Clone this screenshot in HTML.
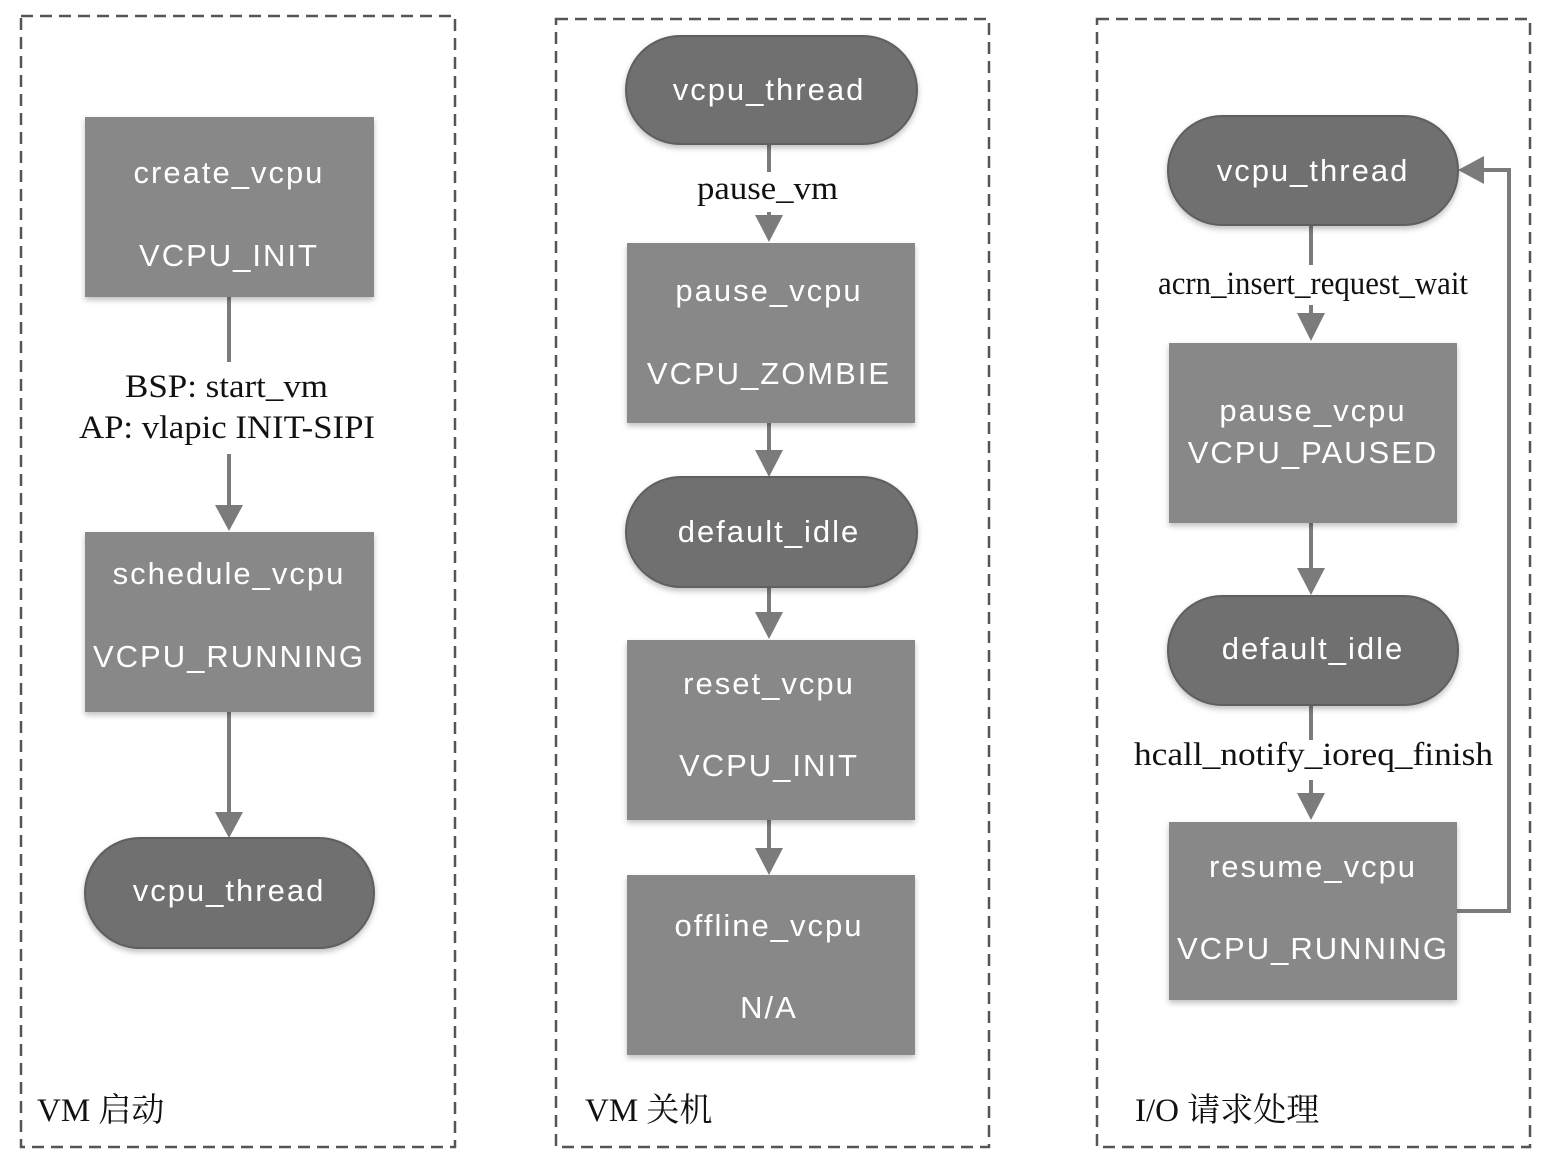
<!DOCTYPE html>
<html><head><style>body{margin:0;background:#fff}</style></head><body>
<svg width="1552" height="1170" xmlns="http://www.w3.org/2000/svg">
<defs>
<filter id="s" x="-10%" y="-10%" width="120%" height="130%"><feDropShadow dx="0" dy="3" stdDeviation="3" flood-color="#000" flood-opacity="0.25"/></filter>
</defs>
<g fill="none" stroke="#555" stroke-width="2.5" stroke-dasharray="12,7">
<rect x="21" y="16" width="434" height="1131"/>
<rect x="556" y="19" width="433" height="1128"/>
<rect x="1097" y="19" width="433" height="1128"/>
</g>
<g stroke="#7b7b7b" stroke-width="4" fill="none">
<line x1="229" y1="297" x2="229" y2="362"/><line x1="229" y1="454" x2="229" y2="508"/>
<line x1="229" y1="712" x2="229" y2="815"/>
<line x1="769" y1="144" x2="769" y2="172"/><line x1="769" y1="212" x2="769" y2="220"/>
<line x1="769" y1="423" x2="769" y2="455"/><line x1="769" y1="587" x2="769" y2="617"/><line x1="769" y1="820" x2="769" y2="853"/>
<line x1="1311" y1="225" x2="1311" y2="265"/><line x1="1311" y1="305" x2="1311" y2="318"/>
<line x1="1311" y1="523" x2="1311" y2="573"/>
<line x1="1311" y1="705" x2="1311" y2="740"/><line x1="1311" y1="780" x2="1311" y2="798"/>
<polyline points="1457,911 1509,911 1509,170 1480,170"/>
</g>
<g fill="#7b7b7b">
<polygon points="215,505 243,505 229,531"/>
<polygon points="215,812 243,812 229,838"/>
<polygon points="755,215 783,215 769,242"/>
<polygon points="755,450 783,450 769,477"/>
<polygon points="755,612 783,612 769,639"/>
<polygon points="755,848 783,848 769,875"/>
<polygon points="1297,313 1325,313 1311,341"/>
<polygon points="1297,568 1325,568 1311,595"/>
<polygon points="1297,793 1325,793 1311,820"/>
<polygon points="1458,170 1484,156 1484,184"/>
</g>
<g filter="url(#s)">
<rect x="85" y="117" width="289" height="180" fill="#888"/>
<rect x="85" y="532" width="289" height="180" fill="#888"/>
<rect x="85" y="838" width="289" height="110" rx="55" fill="#6f6f6f" stroke="#5e5e5e" stroke-width="2"/>
<rect x="626" y="36" width="291" height="108" rx="54" fill="#6f6f6f" stroke="#5e5e5e" stroke-width="2"/>
<rect x="627" y="243" width="288" height="180" fill="#888"/>
<rect x="626" y="477" width="291" height="110" rx="55" fill="#6f6f6f" stroke="#5e5e5e" stroke-width="2"/>
<rect x="627" y="640" width="288" height="180" fill="#888"/>
<rect x="627" y="875" width="288" height="180" fill="#888"/>
<rect x="1168" y="116" width="290" height="109" rx="54" fill="#6f6f6f" stroke="#5e5e5e" stroke-width="2"/>
<rect x="1169" y="343" width="288" height="180" fill="#888"/>
<rect x="1168" y="596" width="290" height="109" rx="54" fill="#6f6f6f" stroke="#5e5e5e" stroke-width="2"/>
<rect x="1169" y="822" width="288" height="178" fill="#888"/>
</g>
<g fill="#fff" font-family="Liberation Sans, sans-serif" font-size="31" text-anchor="middle" letter-spacing="2">
<text x="229" y="183">create_vcpu</text><text x="229" y="266">VCPU_INIT</text>
<text x="229" y="584">schedule_vcpu</text><text x="229" y="667">VCPU_RUNNING</text>
<text x="229" y="901">vcpu_thread</text>
<text x="769" y="100">vcpu_thread</text>
<text x="769" y="301">pause_vcpu</text><text x="769" y="384">VCPU_ZOMBIE</text>
<text x="769" y="542">default_idle</text>
<text x="769" y="694">reset_vcpu</text><text x="769" y="776">VCPU_INIT</text>
<text x="769" y="936">offline_vcpu</text><text x="769" y="1018">N/A</text>
<text x="1313" y="181">vcpu_thread</text>
<text x="1313" y="421">pause_vcpu</text><text x="1313" y="463">VCPU_PAUSED</text>
<text x="1313" y="659">default_idle</text>
<text x="1313" y="877">resume_vcpu</text><text x="1313" y="959">VCPU_RUNNING</text>
</g>
<g fill="#111" font-family="Liberation Serif, 'Noto Serif CJK SC', serif" font-size="33">
<text x="125" y="397" textLength="203" lengthAdjust="spacingAndGlyphs">BSP: start_vm</text>
<text x="79" y="438" textLength="296" lengthAdjust="spacingAndGlyphs">AP: vlapic INIT-SIPI</text>
<text x="697" y="199" textLength="141" lengthAdjust="spacingAndGlyphs">pause_vm</text>
<text x="1158" y="294" textLength="310" lengthAdjust="spacingAndGlyphs">acrn_insert_request_wait</text>
<text x="1134" y="765" textLength="359" lengthAdjust="spacingAndGlyphs">hcall_notify_ioreq_finish</text>
<text x="37" y="1121">VM 启动</text>
<text x="585" y="1121">VM 关机</text>
<text x="1135" y="1121">I/O 请求处理</text>
</g>
</svg>
</body></html>
